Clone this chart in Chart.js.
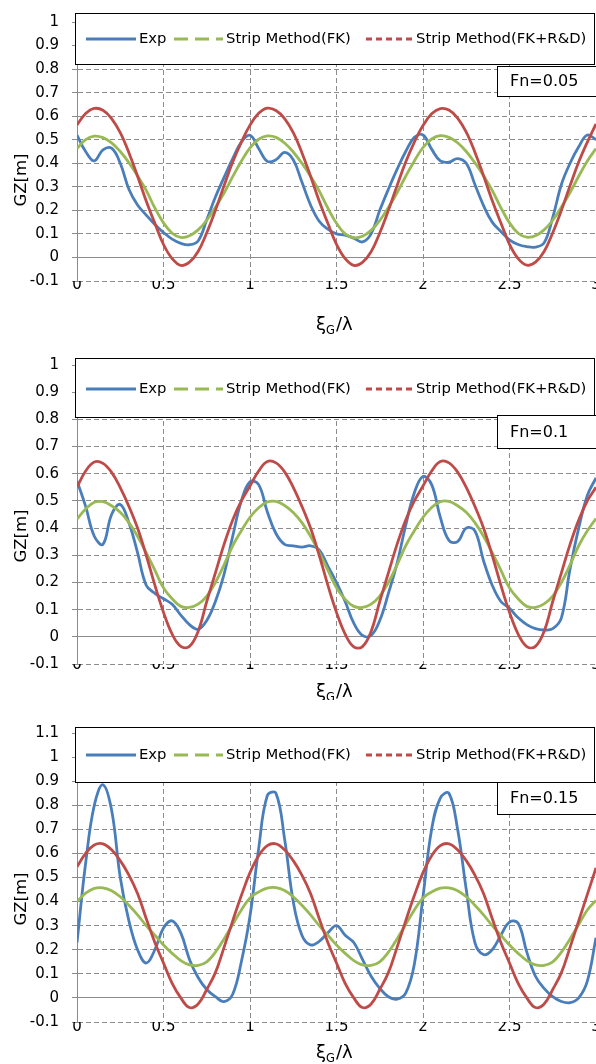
<!DOCTYPE html>
<html>
<head>
<meta charset="utf-8">
<script src="https://cdn.jsdelivr.net/npm/chart.js@4.4.0/dist/chart.umd.min.js"></script>
<style>
html, body { margin: 0; padding: 0; background: #fff; overflow: hidden; width: 596px; height: 1064px; }
canvas { position: absolute; left: 0; }
</style>
</head>
<body>
<canvas id="c1" width="620" height="340" style="top:0px"></canvas>
<canvas id="c2" width="620" height="360" style="top:340px"></canvas>
<canvas id="c3" width="620" height="364" style="top:700px"></canvas>
<script>
// xi_G / lambda, step 0.05
var xVals = [0, 0.05, 0.1, 0.15, 0.2, 0.25, 0.3, 0.35, 0.4, 0.45, 0.5, 0.55, 0.6, 0.65, 0.7, 0.75, 0.8, 0.85, 0.9, 0.95,
    1, 1.05, 1.1, 1.15, 1.2, 1.25, 1.3, 1.35, 1.4, 1.45, 1.5, 1.55, 1.6, 1.65, 1.7, 1.75, 1.8, 1.85, 1.9, 1.95,
    2, 2.05, 2.1, 2.15, 2.2, 2.25, 2.3, 2.35, 2.4, 2.45, 2.5, 2.55, 2.6, 2.65, 2.7, 2.75, 2.8, 2.85, 2.9, 2.95, 3];

var seriesNames = ['Exp', 'Strip Method(FK)', 'Strip Method(FK+R&D)'];
var fnLabels = ['Fn=0.05', 'Fn=0.1', 'Fn=0.15'];
var yMaxes = [1, 1, 1.1];

// Fn = 0.05
var exp005 = [.519, .45, .41, .457, .464, .40, .29, .223, .18, .14, .106, .078, .06, .054, .07, .16, .257, .34, .42, .49,
    .519, .463, .408, .415, .446, .415, .32, .223, .154, .12, .10, .095, .082, .066, .10, .20, .29, .374, .45, .51,
    .52, .46, .41, .405, .42, .40, .31, .22, .15, .11, .075, .055, .046, .044, .062, .17, .31, .40, .47, .52, .50];
var fk005 = [.463, .50, .515, .509, .487, .45, .403, .347, .285, .21, .147, .103, .085, .092, .117, .158, .213, .274, .343, .409,
    .465, .502, .516, .51, .486, .448, .40, .345, .283, .21, .145, .10, .084, .09, .115, .157, .212, .275, .345, .41,
    .467, .503, .517, .51, .487, .45, .402, .347, .285, .212, .147, .103, .086, .092, .117, .158, .214, .276, .345, .41, .462];
var fkrd005 = [.563, .611, .633, .625, .59, .53, .445, .345, .24, .145, .055, -.005, -.034, -.02, .025, .105, .20, .305, .405, .49,
    .562, .612, .634, .624, .59, .53, .445, .345, .24, .145, .056, -.005, -.034, -.021, .024, .104, .20, .305, .405, .49,
    .56, .61, .632, .626, .592, .532, .447, .347, .242, .147, .056, -.005, -.033, -.02, .025, .105, .20, .305, .405, .49, .567];

// Fn = 0.1
var exp010 = [.573, .48, .37, .34, .45, .487, .42, .31, .19, .16, .14, .12, .08, .045, .028, .06, .13, .23, .37, .50,
    .57, .56, .46, .38, .34, .335, .33, .335, .32, .26, .20, .13, .05, .005, .005, .06, .16, .27, .41, .53,
    .59, .56, .44, .355, .35, .40, .39, .28, .19, .13, .105, .07, .045, .03, .025, .03, .07, .25, .40, .52, .585];
var fk010 = [.433, .47, .495, .497, .482, .458, .42, .37, .31, .245, .18, .14, .112, .108, .12, .15, .20, .265, .335, .39,
    .44, .475, .496, .498, .483, .457, .42, .37, .31, .245, .18, .138, .112, .108, .12, .15, .20, .265, .335, .39,
    .44, .476, .497, .498, .482, .458, .42, .37, .31, .245, .18, .14, .112, .108, .121, .15, .20, .265, .335, .39, .435];
var fkrd010 = [.551, .61, .643, .638, .605, .549, .48, .40, .30, .19, .09, .01, -.035, -.035, .02, .13, .235, .34, .43, .50,
    .555, .61, .645, .64, .607, .55, .48, .40, .30, .19, .09, .01, -.037, -.036, .02, .13, .235, .34, .43, .50,
    .555, .61, .645, .64, .606, .55, .48, .40, .30, .19, .09, .01, -.036, -.035, .02, .13, .235, .34, .43, .50, .55];

// Fn = 0.15
var exp015 = [.23, .56, .80, .885, .78, .50, .32, .20, .145, .20, .29, .32, .27, .16, .085, .035, .005, -.015, .015, .15,
    .34, .62, .84, .85, .66, .40, .26, .22, .235, .27, .30, .26, .23, .16, .09, .04, .005, -.005, .02, .14,
    .42, .70, .83, .85, .70, .45, .23, .18, .20, .26, .315, .31, .19, .09, .04, .005, -.015, -.02, 0, .07, .25];
var fk015 = [.40, .435, .455, .457, .445, .42, .385, .345, .30, .26, .22, .185, .155, .137, .135, .15, .19, .245, .305, .365,
    .415, .44, .456, .458, .446, .42, .385, .345, .30, .26, .22, .185, .155, .137, .135, .15, .19, .245, .305, .365,
    .415, .44, .456, .457, .445, .42, .385, .345, .30, .26, .22, .185, .155, .137, .135, .15, .19, .245, .305, .365, .405];
var fkrd015 = [.545, .60, .635, .64, .615, .57, .51, .434, .33, .23, .145, .06, 0, -.04, -.025, .035, .105, .21, .32, .425,
    .52, .59, .632, .64, .615, .57, .51, .434, .33, .23, .145, .06, 0, -.04, -.025, .035, .105, .21, .32, .425,
    .52, .59, .632, .64, .615, .57, .51, .434, .33, .23, .145, .06, 0, -.04, -.025, .035, .105, .21, .32, .43, .54];

var colors = ['#4A7EBB', '#98B954', '#BE4B48'];
var legendDash = [[], [14, 7], [6, 4]];
var FONT = '"DejaVu Sans", sans-serif';

// draws legend box, Fn box and axis titles
var decor = {
    id: 'decor',
    afterDatasetsDraw: function(chart, args, o) {
        var c = chart.ctx;
        c.save();
        c.fillStyle = '#fff';
        c.fillRect(75, o.legTop, 530, o.legBottom - o.legTop);
        c.strokeStyle = '#000';
        c.lineWidth = 1;
        c.strokeRect(75.5, o.legTop + 0.5, 519, o.legBottom - o.legTop);
        var legX = [86, 174, 366];
        var legLen = [50, 49, 47];
        c.font = '14.8px ' + FONT;
        c.textBaseline = 'middle';
        c.textAlign = 'left';
        chart.data.datasets.forEach(function(ds, i) {
            c.strokeStyle = ds.borderColor;
            c.lineWidth = 3;
            c.setLineDash(legendDash[i]);
            c.beginPath();
            c.moveTo(legX[i], o.legMid);
            c.lineTo(legX[i] + legLen[i], o.legMid);
            c.stroke();
            c.setLineDash([]);
            c.fillStyle = '#000';
            c.fillText(ds.label, legX[i] + legLen[i] + 3, o.legMid);
        });

        // Fn box
        c.fillStyle = '#fff';
        c.fillRect(497, o.fnTop, 110, o.fnBottom - o.fnTop);
        c.strokeStyle = '#000';
        c.lineWidth = 1;
        c.strokeRect(497.5, o.fnTop + 0.5, 110, o.fnBottom - o.fnTop);
        c.fillStyle = '#000';
        c.font = '16px ' + FONT;
        c.fillText(o.fn, 510, (o.fnTop + o.fnBottom) / 2 + 1);

        // y title
        c.save();
        c.translate(22, o.yTitle);
        c.rotate(-Math.PI / 2);
        c.textAlign = 'center';
        c.font = '16.5px ' + FONT;
        c.fillText('GZ[m]', 0, 0);
        c.restore();

        // x title: xi_G / lambda
        c.textBaseline = 'alphabetic';
        c.font = '18px ' + FONT;
        var x = 316;
        c.fillText('\u03BE', x, o.xTitle);
        x += c.measureText('\u03BE').width;
        c.font = '11.5px ' + FONT;
        c.fillText('G', x, o.xTitle + 4);
        x += c.measureText('G').width + 1;
        c.font = '18px ' + FONT;
        c.fillText('/\u03BB', x, o.xTitle);
        c.restore();
    }
};

function makeChart(id, exp, fk, fkrd, idx, lay) {
    var sets = [exp, fk, fkrd];
    var ctx = document.getElementById(id).getContext('2d');
    return new Chart(ctx, {
        type: 'line',
        data: {
            datasets: sets.map(function(arr, i) {
                return {
                    label: seriesNames[i],
                    data: xVals.map(function(x, k) { return { x: x, y: arr[k] }; }),
                    borderColor: colors[i],
                    borderWidth: 2.8,
                    pointRadius: 0,
                    tension: 0.4,
                    fill: false,
                    order: 3 - i
                };
            })
        },
        options: {
            responsive: false,
            animation: false,
            layout: { padding: { top: lay.top, right: 24, left: 0, bottom: 0 } },
            plugins: {
                legend: { display: false },
                tooltip: { enabled: false },
                decor: {
                    legTop: lay.legTop, legBottom: lay.legBottom, legMid: lay.legMid,
                    fnTop: lay.fnTop, fnBottom: lay.fnBottom, fn: fnLabels[idx],
                    yTitle: lay.yTitle, xTitle: lay.xTitle
                }
            },
            scales: {
                x: {
                    type: 'linear',
                    min: 0,
                    max: 3,
                    afterFit: function(s) { s.height = lay.xh; },
                    ticks: {
                        stepSize: 0.5,
                        padding: lay.xpad,
                        maxRotation: 0,
                        autoSkip: false,
                        color: '#000',
                        font: { family: FONT, size: 15 },
                        callback: function(v) { return String(Math.round(v * 10) / 10); }
                    },
                    grid: { color: '#8C8C8C', lineWidth: 1, drawTicks: false },
                    border: { display: false, dash: [5, 3] }
                },
                y: {
                    min: -0.1,
                    max: yMaxes[idx],
                    afterFit: function(s) { s.width = 77; },
                    ticks: {
                        stepSize: 0.1,
                        padding: 13,
                        color: '#000',
                        font: { family: FONT, size: 15 },
                        callback: function(v) { return String(Math.round(v * 10) / 10); }
                    },
                    grid: { color: '#8C8C8C', lineWidth: 1, tickLength: 5 },
                    border: {
                        display: true,
                        color: '#8C8C8C',
                        width: 1,
                        dash: function(c) {
                            return (c.tick && Math.abs(c.tick.value) < 1e-9) ? [] : [5, 3];
                        }
                    }
                }
            }
        },
        plugins: [decor]
    });
}

makeChart('c1', exp005, fk005, fkrd005, 0, {
    top: 18, xh: 59, xpad: -5, legTop: 13, legBottom: 64, legMid: 39,
    fnTop: 66, fnBottom: 96, yTitle: 180, xTitle: 330
});
makeChart('c2', exp010, fk010, fkrd010, 1, {
    top: 25, xh: 36, xpad: -8, legTop: 18, legBottom: 77, legMid: 49,
    fnTop: 75, fnBottom: 108, yTitle: 196, xTitle: 357
});
makeChart('c3', exp015, fk015, fkrd015, 2, {
    top: 33, xh: 42, xpad: -4, legTop: 27, legBottom: 82, legMid: 55,
    fnTop: 82, fnBottom: 114, yTitle: 199, xTitle: 358
});
</script>
</body>
</html>
